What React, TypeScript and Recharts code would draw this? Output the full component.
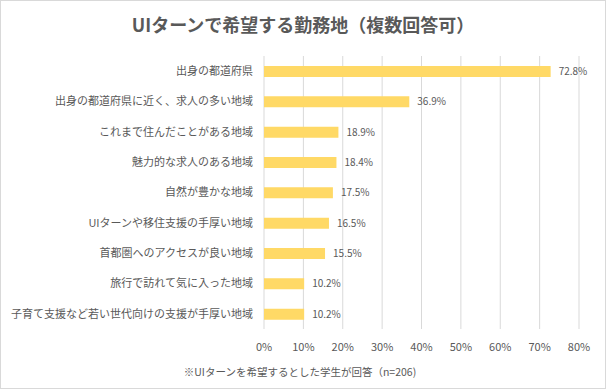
import { BarChart, Bar, XAxis, YAxis, CartesianGrid, LabelList } from "recharts";

const categories = [
  "出身の都道府県",
  "出身の都道府県に近く、求人の多い地域",
  "これまで住んだことがある地域",
  "魅力的な求人のある地域",
  "自然が豊かな地域",
  "UIターンや移住支援の手厚い地域",
  "首都圏へのアクセスが良い地域",
  "旅行で訪れて気に入った地域",
  "子育て支援など若い世代向けの支援が手厚い地域",
];
const values = [72.8, 36.9, 18.9, 18.4, 17.5, 16.5, 15.5, 10.2, 10.2];
const xTicks = [0, 10, 20, 30, 40, 50, 60, 70, 80];

const TITLE = "UIターンで希望する勤務地（複数回答可）";
const NOTE = "※UIターンを希望するとした学生が回答（n=206)";

const FONT = '"Noto Sans CJK JP", "Noto Sans", sans-serif';
const TEXT = "#595959";

export default function App() {
  const data = categories.map((name, i) => ({ name, value: values[i] }));
  return (
    <div style={{ position: "absolute", left: 0, top: 0, width: 606, height: 389, background: "#fff", fontFamily: FONT }}>
      <div
        style={{
          position: "absolute",
          left: 0,
          top: 12,
          width: 606,
          textAlign: "center",
          fontSize: 18,
          fontWeight: 700,
          color: TEXT,
          lineHeight: "24px",
        }}
      >
        {TITLE}
      </div>
      <BarChart
        width={606}
        height={389}
        data={data}
        layout="vertical"
        margin={{ top: 56, right: 27, bottom: 40, left: 0 }}
        barSize={11}
      >
        <CartesianGrid horizontal={false} stroke="#d9d9d9" strokeDasharray="" />
        <XAxis
          type="number"
          domain={[0, 80]}
          ticks={xTicks}
          tickFormatter={(v: number) => `${v}%`}
          axisLine={false}
          tickLine={false}
          tick={{ fill: TEXT, fontSize: 11, fontFamily: FONT }}
          tickMargin={8}
          height={20}
          interval={0}
        />
        <YAxis
          type="category"
          dataKey="name"
          width={264}
          axisLine={false}
          tickLine={false}
          tickSize={0}
          tickMargin={11}
          interval={0}
          tick={{ fill: TEXT, fontSize: 11, fontFamily: FONT }}
        />
        <Bar dataKey="value" fill="#ffd966" isAnimationActive={false}>
          <LabelList
            dataKey="value"
            position="right"
            offset={8}
            formatter={(v: number) => `${v.toFixed(1)}%`}
            style={{ fill: TEXT, fontSize: 10, fontFamily: FONT }}
          />
        </Bar>
      </BarChart>
      <div
        style={{
          position: "absolute",
          left: 0,
          top: 364,
          width: 600,
          textAlign: "center",
          fontSize: 10.5,
          color: TEXT,
          lineHeight: "16px",
        }}
      >
        {NOTE}
      </div>
      <div
        style={{
          position: "absolute",
          left: 0,
          top: 0,
          width: 606,
          height: 389,
          boxSizing: "border-box",
          border: "1px solid #d9d9d9",
          pointerEvents: "none",
        }}
      />
    </div>
  );
}
